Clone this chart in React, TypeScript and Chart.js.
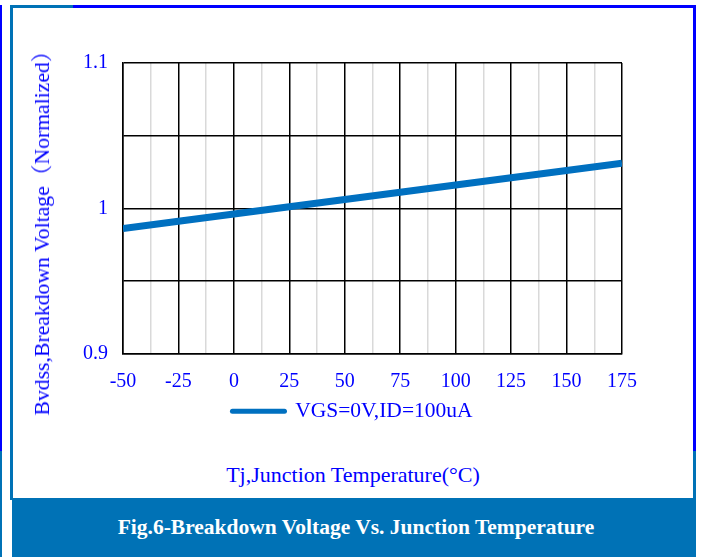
import React, { useEffect, useRef } from "react";
import { Chart, registerables } from "chart.js";

Chart.register(...registerables);

// ---- data ----
const temperatures: number[] = [-50, -25, 0, 25, 50, 75, 100, 125, 150, 175];
const bvdssNormalized: number[] = [0.986, 0.991, 0.996, 1.001, 1.006, 1.011, 1.016, 1.021, 1.026, 1.031];
const seriesLabel = "VGS=0V,ID=100uA";
const yAxisTitle = "Bvdss,Breakdown Voltage（Normalized）";
const xAxisTitle = "Tj,Junction Temperature(°C)";
const figureCaption = "Fig.6-Breakdown Voltage Vs. Junction Temperature";
const xMin = -50;
const xMax = 175;
const xMajorStep = 25;
const xMinorStep = 12.5;
const yMin = 0.9;
const yMax = 1.1;
const yStep = 0.05;
const yLabelValues: number[] = [0.9, 1, 1.1];

const SERIF = '"Liberation Serif", "Times New Roman", "Noto Serif CJK SC", "Noto Sans CJK SC", serif';
const TEAL = "#0072b6";
const BLUE = "#0000ff";
const LINE_BLUE = "#0070c0";

export default function App() {
  const canvasRef = useRef<HTMLCanvasElement | null>(null);

  useEffect(() => {
    const canvas = canvasRef.current;
    if (!canvas) return;
    const points = temperatures.map((t, i) => ({ x: t, y: bvdssNormalized[i] }));
    const chart = new Chart(canvas, {
      type: "line",
      data: {
        datasets: [
          {
            label: seriesLabel,
            data: points,
            borderColor: LINE_BLUE,
            backgroundColor: LINE_BLUE,
            borderWidth: 7,
            pointRadius: 0,
            tension: 0,
            fill: false,
          },
        ],
      },
      options: {
        animation: false,
        responsive: false,
        maintainAspectRatio: false,
        devicePixelRatio: 1,
        layout: { padding: { top: 55, right: 71, left: 70, bottom: 0 } },
        scales: {
          x: {
            type: "linear",
            min: xMin,
            max: xMax,
            ticks: {
              stepSize: xMinorStep,
              autoSkip: false,
              maxRotation: 0,
              minRotation: 0,
              color: BLUE,
              padding: 16,
              font: { family: SERIF, size: 20 },
              callback: (v: any) => {
                const n = Number(v);
                return Math.abs(n / xMajorStep - Math.round(n / xMajorStep)) < 1e-6 ? String(Math.round(n)) : "";
              },
            },
            grid: {
              drawTicks: false,
              lineWidth: 1.5,
              color: (ctx: any) => {
                const n = ctx.tick ? ctx.tick.value : 0;
                return Math.abs(n / xMajorStep - Math.round(n / xMajorStep)) < 1e-6 ? "#000000" : "#d9d9d9";
              },
            },
            border: { color: "#000000", width: 1.5 },
            afterFit: (s: any) => {
              s.height = 37;
            },
          },
          y: {
            type: "linear",
            min: yMin,
            max: yMax,
            ticks: {
              stepSize: yStep,
              color: BLUE,
              padding: 15,
              font: { family: SERIF, size: 20 },
              callback: (v: any) => {
                const n = Number(v);
                const hit = yLabelValues.find((l) => Math.abs(l - n) < 1e-6);
                return hit !== undefined ? String(hit) : "";
              },
            },
            grid: { drawTicks: false, lineWidth: 1.5, color: "#000000" },
            border: { color: "#000000", width: 1.5 },
            afterFit: (s: any) => {
              s.width = 40;
            },
          },
        },
        plugins: {
          legend: {
            display: true,
            position: "bottom",
            labels: {
              color: BLUE,
              font: { family: SERIF, size: 21.5 },
              usePointStyle: true,
              pointStyle: "line",
              pointStyleWidth: 52,
              padding: 10,
              generateLabels: (c: any) => {
                const base = Chart.defaults.plugins.legend.labels.generateLabels(c);
                return base.map((it: any) => ({
                  ...it,
                  pointStyle: "line",
                  lineWidth: 5,
                  lineCap: "round",
                  strokeStyle: LINE_BLUE,
                  fillStyle: LINE_BLUE,
                  fontColor: BLUE,
                }));
              },
            },
          },
          tooltip: { enabled: false },
          title: { display: false },
        },
      },
    });
    return () => chart.destroy();
  }, []);

  const abs = (s: React.CSSProperties): React.CSSProperties => ({ position: "absolute", ...s });

  return (
    <div style={{ position: "fixed", left: 0, top: 0, width: 703, height: 558, background: "#ffffff", overflow: "hidden" }}>
      {/* outer left line */}
      <div style={abs({ left: 0, top: 5, width: 2, height: 446, background: BLUE })} />
      <div style={abs({ left: 0, top: 451, width: 2, height: 106, background: TEAL })} />
      {/* inner frame */}
      <div style={abs({ left: 10, top: 5, width: 3, height: 495, background: TEAL })} />
      <div style={abs({ left: 10, top: 5, width: 63, height: 3, background: TEAL })} />
      <div style={abs({ left: 73, top: 5, width: 623, height: 3, background: BLUE })} />
      <div style={abs({ left: 693, top: 5, width: 3, height: 446, background: BLUE })} />
      <div style={abs({ left: 693, top: 451, width: 3, height: 49, background: TEAL })} />
      {/* chart */}
      <canvas ref={canvasRef} width={680} height={424} style={abs({ left: 13, top: 8, width: 680, height: 424 })} />
      {/* y axis title */}
      <div
        style={abs({
          left: 42,
          top: 228,
          transform: "translate(-50%, -50%) rotate(-90deg)",
          whiteSpace: "nowrap",
          fontFamily: SERIF,
          fontSize: 21.7,
          lineHeight: "24px",
          color: BLUE,
        })}
      >
        {yAxisTitle}
      </div>
      {/* x axis title */}
      <div
        style={abs({
          left: 13,
          width: 680,
          top: 462,
          textAlign: "center",
          fontFamily: SERIF,
          fontSize: 22,
          lineHeight: "26px",
          color: BLUE,
          whiteSpace: "nowrap",
        })}
      >
        {xAxisTitle}
      </div>
      {/* caption banner */}
      <div
        style={abs({
          left: 12,
          top: 498,
          width: 680,
          paddingLeft: 4,
          height: 59,
          background: TEAL,
          color: "#ffffff",
          fontFamily: SERIF,
          fontWeight: "bold",
          fontSize: 21.5,
          lineHeight: "59px",
          textAlign: "center",
          whiteSpace: "nowrap",
        })}
      >
        {figureCaption}
      </div>
    </div>
  );
}
